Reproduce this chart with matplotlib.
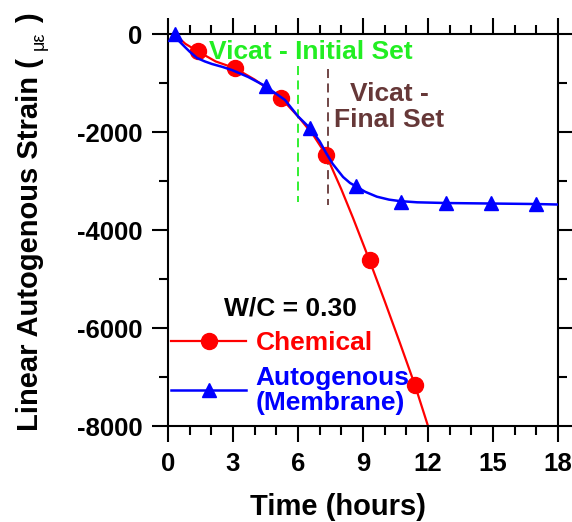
import numpy as np
import matplotlib.pyplot as plt
from matplotlib.lines import Line2D

plt.rcParams['font.family'] = ['Liberation Sans', 'DejaVu Sans']
plt.rcParams['axes.unicode_minus'] = False

# chemical shrinkage: measured points and the fitted curve
chem_t = [1.4, 3.1, 5.2, 7.3, 9.3, 11.4]
chem_y = [-350, -690, -1310, -2470, -4610, -7160]
chem_curve_t = [0.3, 0.8, 1.4, 2.2, 3.1, 4.0, 5.2, 6.0, 6.7, 7.3, 8.0, 8.54, 9.3, 10.0, 10.7, 11.4, 12.0]
chem_curve_y = [0, -200, -360, -560, -700, -930, -1300, -1680, -2060, -2470, -3170, -3755, -4620, -5450, -6300, -7170, -8000]

# autogenous (membrane) strain
auto_t = [0.3, 4.5, 6.55, 8.7, 10.75, 12.85, 14.9, 17.0]
auto_y = [0, -1060, -1920, -3110, -3420, -3450, -3455, -3470]
auto_curve_t = [0.3, 0.5, 0.78, 1.0, 1.34, 1.7, 2.03, 2.5, 2.95, 3.7, 4.48, 5.4, 6.0, 6.55, 7.0,
                7.3, 7.6, 8.08, 8.4, 8.68, 9.1, 9.64, 10.2, 10.7, 11.5, 12.9, 15.0, 17.0, 18.0]
auto_curve_y = [0, -140, -265, -360, -490, -560, -612, -670, -735, -877, -1060, -1347, -1680, -1920, -2190,
                -2430, -2650, -2918, -3040, -3110, -3220, -3320, -3380, -3410, -3435, -3450, -3460, -3470, -3480]

# vicat set times (hours) and the strain range of their dashed markers
vicat_init = 6.0
vicat_final = 7.4
vicat_init_span = (-650, -3430)
vicat_final_span = (-720, -3490)

red = '#ff0000'
blue = '#0000ff'
green = '#22ee22'
brown = '#663838'

fig = plt.figure(figsize=(5.72, 5.22), dpi=100)
ax = fig.add_axes([168 / 572, 1 - 426 / 522, 390 / 572, 392 / 522])

ax.plot(chem_curve_t, chem_curve_y, color=red, lw=1.6, zorder=2)
ax.plot(chem_t, chem_y, 'o', color=red, ms=11.5, zorder=3, clip_on=False)
ax.plot(auto_curve_t, auto_curve_y, color=blue, lw=1.8, zorder=4)
ax.plot(auto_t, auto_y, '^', color=blue, ms=10, zorder=5, clip_on=False)

ax.vlines(vicat_init, *vicat_init_span, colors=green, linestyles=(0, (5, 3)), lw=1.3, zorder=1)
ax.vlines(vicat_final, *vicat_final_span, colors=brown, linestyles=(0, (5, 3)), lw=1.3, zorder=1)

ax.text(1.9, -370, 'Vicat - Initial Set', color=green, fontsize=19, fontweight='bold',
        ha='left', va='center', zorder=6)
ax.text(10.2, -1490, 'Vicat -\nFinal Set', color=brown, fontsize=19, fontweight='bold',
        ha='center', va='center', linespacing=1.15)

ax.set_xlim(0, 18)
ax.set_ylim(-8000, 0)
ax.set_xticks(np.arange(0, 19, 3))
ax.set_xticks(np.arange(0, 19, 1), minor=True)
ax.set_yticks(np.arange(-8000, 1, 2000))
ax.set_yticks(np.arange(-8000, 1, 1000), minor=True)

for s in ax.spines.values():
    s.set_linewidth(1.5)
ax.tick_params(which='both', direction='out', top=True, right=True, width=1.5,
               labelsize=18.5, pad=7)
ax.tick_params(which='major', length=11.5)
ax.tick_params(which='minor', length=6.5)
for lab in ax.get_xticklabels() + ax.get_yticklabels():
    lab.set_fontweight('bold')

ax.set_xlabel('Time (hours)', fontsize=21, fontweight='bold')
ax.xaxis.set_label_coords((338 - 168) / 390, -0.17)

# y label in pieces: the unit sits small and unbolded between the brackets
fig.text(30 / 572, 1 - 431 / 522, 'Linear Autogenous Strain (', rotation=90, fontsize=21,
         fontweight='bold', ha='center', va='bottom')
fig.text(39 / 572, 1 - 41 / 522, 'με', rotation=90, fontsize=13, ha='center', va='center')
fig.text(30 / 572, 1 - 18 / 522, ')', rotation=90, fontsize=21, fontweight='bold',
         ha='center', va='center')

handles = [Line2D([], [], color=red, lw=1.6, marker='o', ms=11.5),
           Line2D([], [], color=blue, lw=1.8, marker='^', ms=10)]
leg = ax.legend(handles, ['Chemical', 'Autogenous\n(Membrane)'], title='W/C = 0.30',
                loc='upper left', bbox_to_anchor=(0.008, 0.33), frameon=False,
                prop={'size': 19, 'weight': 'bold'}, handlelength=2.85, handletextpad=0.35,
                labelspacing=0.4, borderpad=0, borderaxespad=0, labelcolor='linecolor')
leg.get_title().set_fontsize(19)
leg.get_title().set_fontweight('bold')
for t in leg.get_texts():
    t.set_linespacing(1.05)

fig.savefig('out.png', dpi=100)
